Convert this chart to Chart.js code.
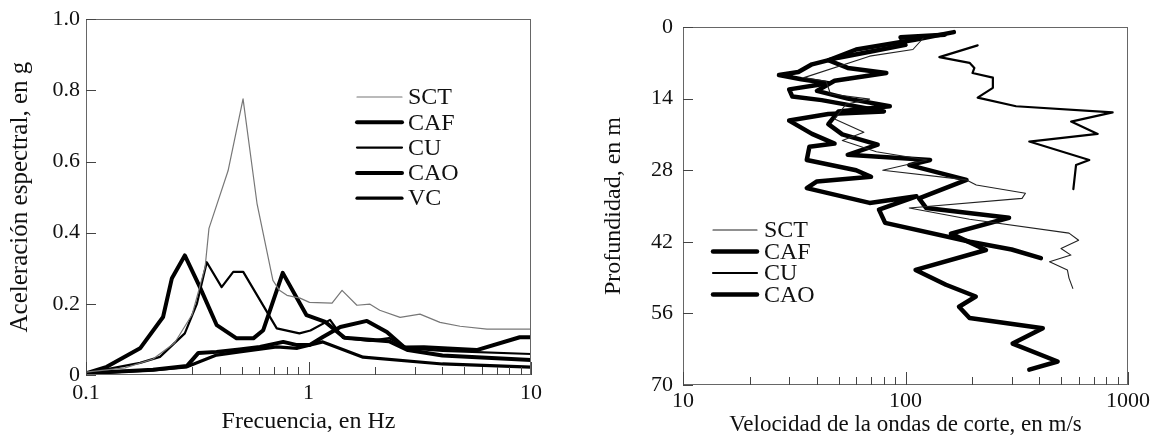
<!DOCTYPE html>
<html><head><meta charset="utf-8">
<script src="https://cdn.jsdelivr.net/npm/chart.js@4.4.1/dist/chart.umd.min.js"></script>
<style>
html,body{margin:0;padding:0;background:#fff;overflow:hidden}
#wrap{position:relative;width:1156px;height:440px;background:#fff}
canvas{position:absolute;top:0}
#c1{left:0}
#c2{left:578px}
</style></head><body>
<div id="wrap"><canvas id="c1" width="578" height="440"></canvas><canvas id="c2" width="578" height="440"></canvas></div>
<script>
// ---------- Left panel: spectral acceleration (g) vs frequency (Hz) ----------
const seriesLeft = ['SCT', 'CAF', 'CU', 'CAO', 'VC'];
const freqSCT = [0.1, 0.15, 0.2, 0.25, 0.3, 0.343, 0.357, 0.435, 0.508, 0.587, 0.692, 0.74, 0.80, 0.916, 1.01, 1.276, 1.415, 1.65, 1.89, 2.09, 2.58, 3.17, 3.9, 4.8, 6.34, 10];
const accSCT  = [0.008, 0.02, 0.045, 0.09, 0.17, 0.303, 0.412, 0.574, 0.776, 0.482, 0.266, 0.238, 0.224, 0.216, 0.204, 0.202, 0.238, 0.196, 0.199, 0.182, 0.162, 0.171, 0.148, 0.137, 0.129, 0.129];
const freqCAF = [0.1, 0.124, 0.175, 0.222, 0.243, 0.278, 0.325, 0.387, 0.475, 0.565, 0.626, 0.766, 0.98, 1.19, 1.45, 2.3, 2.8, 4.0, 10];
const accCAF  = [0.005, 0.023, 0.075, 0.163, 0.271, 0.336, 0.247, 0.14, 0.103, 0.103, 0.126, 0.287, 0.168, 0.149, 0.105, 0.095, 0.07, 0.055, 0.042];
const freqCU  = [0.1, 0.175, 0.215, 0.278, 0.315, 0.349, 0.407, 0.459, 0.509, 0.72, 0.91, 1.02, 1.25, 1.43, 1.89, 2.3, 2.8, 4.0, 10];
const accCU   = [0.005, 0.034, 0.051, 0.117, 0.2, 0.317, 0.247, 0.29, 0.29, 0.131, 0.117, 0.125, 0.155, 0.104, 0.096, 0.104, 0.075, 0.068, 0.059];
const freqCAO = [0.1, 0.2, 0.284, 0.32, 0.386, 0.49, 0.605, 0.77, 0.89, 1.01, 1.16, 1.39, 1.83, 2.25, 2.7, 3.3, 5.7, 8.9, 10];
const accCAO  = [0.005, 0.015, 0.025, 0.062, 0.065, 0.072, 0.079, 0.093, 0.084, 0.084, 0.107, 0.135, 0.152, 0.121, 0.077, 0.078, 0.07, 0.106, 0.106];
const freqVC  = [0.1, 0.2, 0.284, 0.386, 0.49, 0.72, 0.89, 1.16, 1.76, 4.0, 10];
const accVC   = [0.005, 0.014, 0.023, 0.056, 0.065, 0.079, 0.075, 0.093, 0.05, 0.031, 0.022];
const leftXTicks = [0.1, 1, 10];
const leftXTickLabels = ['0.1', '1', '10'];
const leftYTicks = [0, 0.2, 0.4, 0.6, 0.8, 1.0];
const leftYTickLabels = ['0', '0.2', '0.4', '0.6', '0.8', '1.0'];

// ---------- Right panel: depth (m) vs shear-wave velocity (m/s) ----------
const seriesRight = ['SCT', 'CAF', 'CU', 'CAO'];
const velSCT   = [120, 108, 69, 35, 44, 46, 69, 54, 48, 65, 52, 74, 125, 79, 188, 208, 346, 334, 104, 194, 543, 600, 500, 554, 444, 534, 543, 565];
const depthSCT = [2.2, 4.4, 5.7, 9.9, 10.6, 13.1, 14.1, 15.1, 18, 20.6, 22.2, 24.4, 26, 28, 29.9, 30.9, 32.5, 33.5, 35.4, 37.6, 40.3, 41.7, 43.3, 44.6, 45.9, 47.5, 49.1, 51.1];
const velCAF   = [150, 95, 100, 70, 50, 38, 33, 27, 34, 45, 30, 31, 42, 80, 45, 30, 38, 48, 37, 36, 60, 70, 40, 36, 69, 112, 76, 81, 195, 300, 406];
const depthCAF = [1.5, 2.0, 3.5, 4.8, 6.0, 7.3, 8.8, 9.4, 10.2, 11, 12.2, 13.6, 14.3, 16.5, 17, 18.3, 20.9, 22.8, 23.4, 26, 28, 29.3, 30.2, 31.5, 34.4, 33.1, 35.7, 38.3, 42, 43.5, 45.2];
const velCU    = [211, 142, 194, 204, 200, 247, 247, 211, 314, 853, 555, 731, 360, 670, 584, 568];
const depthCU  = [3.6, 5.9, 7.0, 8.0, 9.0, 9.9, 11.9, 13.8, 15.5, 16.7, 18.5, 20.9, 22.4, 26.0, 27.0, 31.7];
const velCAO   = [165, 110, 60, 45, 55, 82, 48, 40, 55, 85, 50, 45, 52, 75, 55, 129, 104, 188, 115, 124, 292, 160, 230, 111, 152, 207, 174, 194, 414, 303, 483, 360];
const depthCAO = [1.0, 2.5, 4.4, 6.5, 8, 9, 10.5, 12.5, 14, 15.5, 16.5, 19, 21, 23, 25, 26, 27, 29.9, 33.5, 35.4, 37.3, 40.4, 43.6, 47.5, 50.4, 52.7, 54.7, 56.9, 58.9, 61.9, 65.4, 67.0];
const rightXTicks = [10, 100, 1000];
const rightXTickLabels = ['10', '100', '1000'];
const rightYTicks = [0, 14, 28, 42, 56, 70];
const rightYTickLabels = ['0', '14', '28', '42', '56', '70'];

// ---------- helpers ----------
const SERIF = '"Liberation Serif", "DejaVu Serif", serif';
const TXT = '#111';
function pts(xs, ys) { return xs.map((x, i) => ({ x: x, y: ys[i] })); }
function ds(label, data, color, width) {
  return { label, data, showLine: true, borderColor: color, backgroundColor: color, borderWidth: width,
           pointRadius: 0, pointHoverRadius: 0, tension: 0, fill: false,
           borderJoinStyle: 'round', borderCapStyle: 'round' };
}

const frameTicks = {
  id: 'frameTicks',
  afterDatasetsDraw(chart, args, o) {
    const { ctx, chartArea: a, scales } = chart;
    const xs = scales.x, ys = scales.y;
    ctx.save();
    ctx.lineWidth = 1;
    ctx.strokeStyle = '#666';
    ctx.strokeRect(Math.round(a.left) + 0.5, Math.round(a.top) + 0.5, Math.round(a.right - a.left) - 1, Math.round(a.bottom - a.top) - 1);
    ctx.strokeStyle = '#444';
    ys.ticks.forEach(t => {
      const p = Math.round(ys.getPixelForValue(t.value)) + 0.5;
      ctx.beginPath(); ctx.moveTo(a.left, p); ctx.lineTo(a.left + o.yLen, p); ctx.stroke();
    });
    const e0 = Math.floor(Math.log10(xs.min) + 1e-9), e1 = Math.ceil(Math.log10(xs.max) - 1e-9);
    for (let e = e0; e <= e1; e++) {
      for (let m = 1; m < 10; m++) {
        const v = m * Math.pow(10, e);
        if (v < xs.min * 0.999 || v > xs.max * 1.001) continue;
        if ((o.skip || []).some(s => Math.abs(s - v) < 1e-9)) continue;
        const p = Math.round(xs.getPixelForValue(v)) + 0.5;
        const len = m === 1 ? o.major : o.minor;
        ctx.beginPath(); ctx.moveTo(p, a.bottom); ctx.lineTo(p, a.bottom - len); ctx.stroke();
      }
    }
    ctx.restore();
  }
};

const inLegend = {
  id: 'inLegend',
  afterDraw(chart, args, o) {
    const ctx = chart.ctx;
    ctx.save();
    ctx.font = o.font; ctx.textBaseline = 'middle'; ctx.fillStyle = TXT;
    chart.data.datasets.forEach((d, i) => {
      const y = o.y0 + i * o.dy;
      ctx.strokeStyle = d.borderColor; ctx.lineWidth = d.legendWidth || d.borderWidth; ctx.lineCap = 'round';
      ctx.beginPath(); ctx.moveTo(o.x0, y); ctx.lineTo(o.x1, y); ctx.stroke();
      ctx.fillText(d.label, o.tx, y + 1);
    });
    ctx.restore();
  }
};

function logTicksX(vals) { return s => { s.ticks = vals.map(v => ({ value: v })); }; }

// ---------- Left chart ----------
new Chart(document.getElementById('c1'), {
  type: 'scatter',
  data: { datasets: [
    ds(seriesLeft[0], pts(freqSCT, accSCT), '#777', 1.2),
    ds(seriesLeft[1], pts(freqCAF, accCAF), '#000', 4),
    ds(seriesLeft[2], pts(freqCU, accCU), '#000', 2.2),
    ds(seriesLeft[3], pts(freqCAO, accCAO), '#000', 4),
    ds(seriesLeft[4], pts(freqVC, accVC), '#000', 3.2)
  ] },
  options: {
    responsive: false, animation: false, devicePixelRatio: 1,
    layout: { padding: { top: 18, right: 47, left: 0, bottom: 0 } },
    plugins: {
      legend: { display: false }, tooltip: { enabled: false },
      frameTicks: { yLen: 10, major: 13, minor: 8, skip: [0.2] },
      inLegend: { x0: 357, x1: 402, tx: 408, y0: 97, dy: 25.3, font: '24px ' + SERIF }
    },
    scales: {
      x: {
        type: 'logarithmic', min: 0.1, max: 10,
        afterBuildTicks: logTicksX(leftXTicks),
        afterFit: s => { s.height = 65; },
        grid: { display: false, drawTicks: false },
        border: { display: false },
        ticks: { autoSkip: false, maxRotation: 0, padding: 5, color: TXT, font: { family: SERIF, size: 22 },
                 callback: (v, i) => leftXTickLabels[i] },
        title: { display: true, text: 'Frecuencia, en Hz', color: TXT, font: { family: SERIF, size: 24 }, padding: { top: 0, bottom: 4 } }
      },
      y: {
        type: 'linear', min: 0, max: 1,
        afterBuildTicks: s => { s.ticks = leftYTicks.map(v => ({ value: v })); },
        afterFit: s => { s.width = 86; },
        grid: { display: false, drawTicks: false },
        border: { display: false },
        ticks: { autoSkip: false, padding: 6, color: TXT, font: { family: SERIF, size: 22 },
                 callback: (v, i) => leftYTickLabels[i] },
        title: { display: true, text: 'Aceleración espectral, en g', color: TXT, font: { family: SERIF, size: 25 }, padding: { top: 5, bottom: 0 } }
      }
    }
  },
  plugins: [frameTicks, inLegend]
});

// ---------- Right chart ----------
new Chart(document.getElementById('c2'), {
  type: 'scatter',
  data: { datasets: [
    ds(seriesRight[0], pts(velSCT, depthSCT), '#222', 1.1),
    ds(seriesRight[1], pts(velCAF, depthCAF), '#000', 4.5),
    ds(seriesRight[2], pts(velCU, depthCU), '#000', 2.2),
    ds(seriesRight[3], pts(velCAO, depthCAO), '#000', 4.5)
  ] },
  options: {
    responsive: false, animation: false, devicePixelRatio: 1,
    layout: { padding: { top: 27, right: 28, left: 0, bottom: 0 } },
    plugins: {
      legend: { display: false }, tooltip: { enabled: false },
      frameTicks: { yLen: 10, major: 13, minor: 8 },
      inLegend: { x0: 135, x1: 179, tx: 186, y0: 230, dy: 21.5, font: '24px ' + SERIF }
    },
    scales: {
      x: {
        type: 'logarithmic', min: 10, max: 1000,
        afterBuildTicks: logTicksX(rightXTicks),
        afterFit: s => { s.height = 55; },
        grid: { display: false, drawTicks: false },
        border: { display: false },
        ticks: { autoSkip: false, maxRotation: 0, padding: 3, color: TXT, font: { family: SERIF, size: 22 },
                 callback: (v, i) => rightXTickLabels[i] },
        title: { display: true, text: 'Velocidad de la ondas de corte, en m/s', color: TXT, font: { family: SERIF, size: 23 }, padding: { top: 0, bottom: 1 } }
      },
      y: {
        type: 'linear', min: 0, max: 70, reverse: true,
        afterBuildTicks: s => { s.ticks = rightYTicks.map(v => ({ value: v })); },
        afterFit: s => { s.width = 105; },
        grid: { display: false, drawTicks: false },
        border: { display: false },
        ticks: { autoSkip: false, padding: 10, color: TXT, font: { family: SERIF, size: 22 },
                 callback: (v, i) => rightYTickLabels[i] },
        title: { display: true, text: 'Profundidad, en m', color: TXT, font: { family: SERIF, size: 24 }, padding: { top: 21, bottom: 0 } }
      }
    }
  },
  plugins: [frameTicks, inLegend]
});
</script>
</body></html>
